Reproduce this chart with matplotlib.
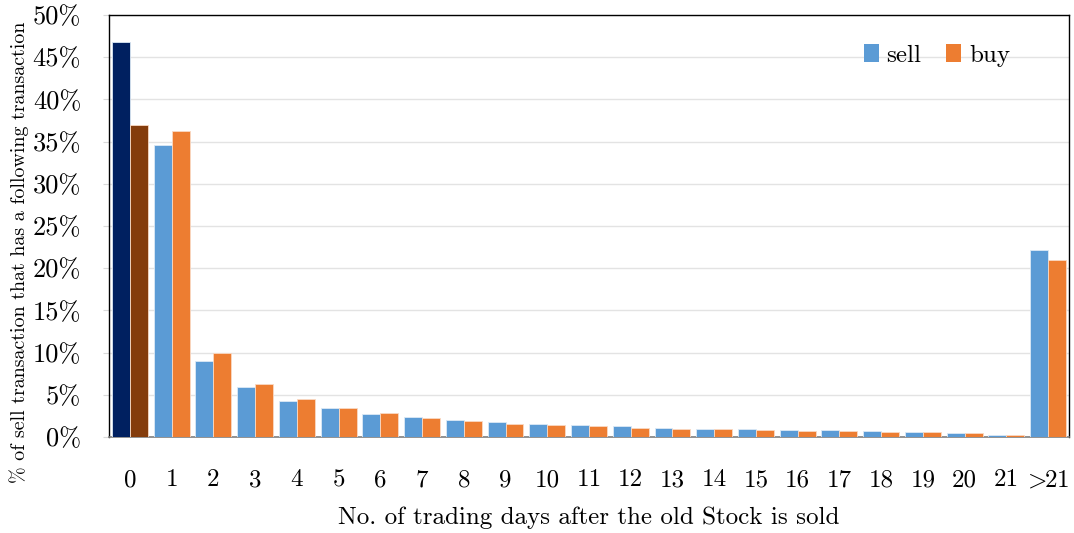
import matplotlib
matplotlib.use("Agg")
import matplotlib.pyplot as plt
import numpy as np
from matplotlib.patches import Patch

categories = ["0", "1", "2", "3", "4", "5", "6", "7", "8", "9", "10", "11",
              "12", "13", "14", "15", "16", "17", "18", "19", "20", "21", r"$\!>\!\!$21"]
sell = [46.8, 34.6, 9.0, 5.9, 4.3, 3.4, 2.76, 2.37, 2.0, 1.8, 1.6, 1.45,
        1.3, 1.1, 1.0, 1.0, 0.87, 0.8, 0.67, 0.6, 0.47, 0.24, 22.2]
buy = [37.0, 36.3, 9.95, 6.3, 4.5, 3.4, 2.8, 2.2, 1.9, 1.6, 1.45, 1.26,
       1.1, 0.95, 0.9, 0.83, 0.75, 0.67, 0.6, 0.55, 0.42, 0.22, 21.0]
yticks = [0, 5, 10, 15, 20, 25, 30, 35, 40, 45, 50]

plt.rcParams['font.family'] = ['cmr10', 'DejaVu Serif']
plt.rcParams['mathtext.fontset'] = 'cm'
plt.rcParams['axes.formatter.use_mathtext'] = True

SELL = '#5B9BD5'
BUY = '#ED7D31'
SELL0 = '#002060'
BUY0 = '#843C0C'

fig = plt.figure(figsize=(10.74, 5.33), dpi=100)
ax = fig.add_axes([0.1015, 0.1801, 0.8938, 0.7918])

x = np.arange(len(categories))
w = 0.43
sc = [SELL0] + [SELL] * (len(categories) - 1)
bc = [BUY0] + [BUY] * (len(categories) - 1)
ax.bar(x - w / 2, sell, width=w, color=sc, edgecolor='#dce9f5', linewidth=0.6, zorder=3)
ax.bar(x + w / 2, buy, width=w, color=bc, edgecolor='#f9d9c4', linewidth=0.6, zorder=3)

ax.set_xlim(-0.5, len(categories) - 0.5)
ax.set_ylim(0, 50)
ax.set_yticks(yticks)
ax.set_yticklabels([f"{v}%" for v in yticks], fontsize=19)
ax.set_xticks(x)
ax.set_xticklabels(categories, fontsize=18)
ax.tick_params(axis='x', length=0, pad=23)
ax.tick_params(axis='y', length=4, color='#d9d9d9', pad=16)
ax.grid(axis='y', color='#e3e3e3', linewidth=1.0, zorder=0)
for s in ['top', 'right', 'left']:
    ax.spines[s].set_color('black')
    ax.spines[s].set_linewidth(1.0)
ax.spines['bottom'].set_color('#7f7f7f')
ax.spines['bottom'].set_linewidth(1.2)

ax.set_xlabel("No. of trading days after the old Stock is sold", fontsize=18, labelpad=11)
ax.set_ylabel("% of sell transaction that has a following transaction", fontsize=14.4)
ax.yaxis.set_label_coords(-0.0833, 0.437)

handles = [Patch(facecolor=SELL, label='sell'), Patch(facecolor=BUY, label='buy')]
ax.legend(handles=handles, loc='upper right', bbox_to_anchor=(0.962, 0.985), ncol=2,
          frameon=False, fontsize=18, handlelength=0.6, handleheight=0.75,
          handletextpad=0.3, columnspacing=1.0)

fig.savefig("out.png", dpi=100)
